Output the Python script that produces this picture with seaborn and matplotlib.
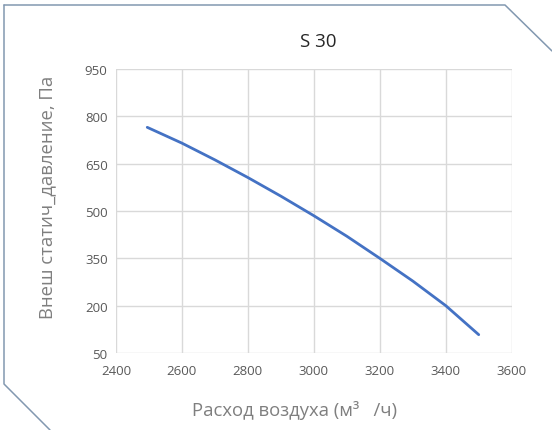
import matplotlib
matplotlib.use("Agg")
import matplotlib.pyplot as plt
import seaborn as sns
import pandas as pd
from matplotlib.lines import Line2D

# Data
airflow = [2495, 2600, 2700, 2800, 2900, 3000, 3100, 3200, 3300, 3400, 3500]
pressure = [765, 715, 662, 606, 547, 485, 420, 350, 278, 200, 108]
x_ticks = [2400, 2600, 2800, 3000, 3200, 3400, 3600]
y_ticks = [50, 200, 350, 500, 650, 800, 950]

df = pd.DataFrame({"airflow": airflow, "pressure": pressure})

sns.set_theme(style="white")
plt.rcParams["font.family"] = ["Open Sans", "DejaVu Sans"]

fig = plt.figure(figsize=(5.52, 4.31), dpi=100)
fig.patch.set_facecolor("white")
ax = fig.add_axes([0.210, 0.1787, 0.717, 0.659])

sns.lineplot(data=df, x="airflow", y="pressure", ax=ax, color="#4472C4",
             linewidth=2.0, estimator=None, sort=False)

ax.set_xlim(2400, 3600)
ax.set_ylim(50, 950)
ax.set_xticks(x_ticks)
ax.set_yticks(y_ticks)
ax.grid(True, color="#D9D9D9", linewidth=1.0)
for s in ax.spines.values():
    s.set_visible(False)
ax.tick_params(axis="both", length=0, labelsize=9.5, colors="#595959")
ax.tick_params(axis="x", pad=8)
ax.tick_params(axis="y", pad=6)

ax.set_xlabel("Расход воздуха (м³   /ч)", fontsize=13.3, color="#7F7F7F", va="center")
ax.xaxis.set_label_coords(0.45, -0.20)
ax.set_ylabel("Внеш статич_давление, Па", fontsize=13.3, color="#7F7F7F", va="center")
ax.yaxis.set_label_coords(-0.173, 0.553)
ax.set_title("S 30", fontsize=13.5, color="#262626", x=0.511, y=1.05)

# Decorative frame with cut corners
c = "#8298B0"
fig.add_artist(Line2D([4/552, 505/552, 1.0], [1-6/431, 1-6/431, 1-52/431],
                      transform=fig.transFigure, color=c, linewidth=1.1))
fig.add_artist(Line2D([4/552, 4/552, 50/552], [1-6/431, 1-385/431, 0.0],
                      transform=fig.transFigure, color=c, linewidth=1.1))

fig.savefig("out.png", dpi=100, facecolor="white")
